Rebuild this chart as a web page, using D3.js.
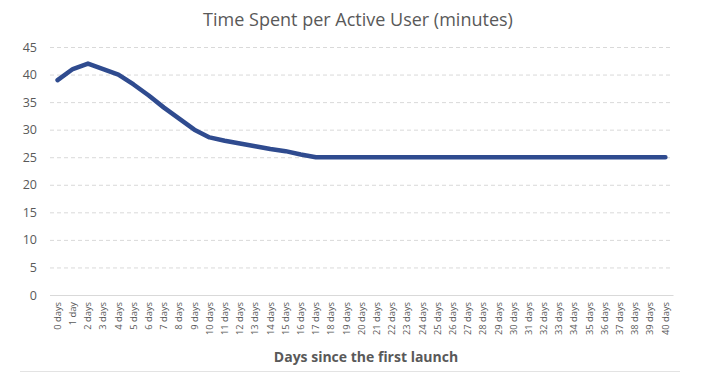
<!DOCTYPE html>
<html>
<head>
<meta charset="utf-8">
<script src="https://cdn.jsdelivr.net/npm/d3@7"></script>
<style>
  body { margin: 0; background: #fff; }
  text { font-family: "Open Sans", "Noto Sans", sans-serif; }
</style>
</head>
<body>
<svg id="chart"></svg>
<script>
var svgW = 715, svgH = 387;

// days since first launch
var days = d3.range(0, 41).map(function (d) { return d === 1 ? "1 day" : d + " days"; });
// minutes per active user
var minutes = [39, 41, 42, 41, 40, 38.2, 36.2, 34, 32, 30, 28.6, 28, 27.5, 27, 26.5, 26.1, 25.5, 25,
  25, 25, 25, 25, 25, 25, 25, 25, 25, 25, 25, 25, 25, 25, 25, 25, 25, 25, 25, 25, 25, 25, 25];
var yTicks = [0, 5, 10, 15, 20, 25, 30, 35, 40, 45];

var margin = { left: 50, right: 42, top: 47, bottom: 92 };
var grey = "#595959";

var svg = d3.select("#chart").attr("width", svgW).attr("height", svgH);

var x = d3.scaleBand().domain(days).range([margin.left, svgW - margin.right]);
var y = d3.scaleLinear().domain([0, 45]).range([svgH - margin.bottom, margin.top]);

// title
svg.append("text")
  .attr("x", 358).attr("y", 26)
  .attr("text-anchor", "middle")
  .attr("font-size", 18)
  .attr("fill", grey)
  .text("Time Spent per Active User (minutes)");

// gridlines (dashed) + y labels
var yAxis = svg.append("g")
  .attr("transform", "translate(" + margin.left + ",0)")
  .call(d3.axisLeft(y).tickValues(yTicks).tickSize(-(svgW - margin.left - margin.right)).tickPadding(13));
yAxis.select(".domain").remove();
yAxis.selectAll(".tick line")
  .attr("stroke", "#d9d9d9")
  .attr("stroke-dasharray", function (d) { return d === 0 ? null : "4,3"; });
yAxis.selectAll(".tick text")
  .attr("fill", grey)
  .attr("font-size", 12.5);

// x axis
var xAxis = svg.append("g")
  .attr("transform", "translate(0," + y(0) + ")")
  .call(d3.axisBottom(x).tickSize(0).tickPadding(0));
xAxis.select(".domain").attr("stroke", "#d9d9d9");
xAxis.selectAll(".tick text")
  .attr("fill", grey)
  .attr("font-size", 9.3)
  .attr("text-anchor", "end")
  .attr("dy", "0.35em")
  .attr("transform", "translate(0,7) rotate(-90)");

// axis title
svg.append("text")
  .attr("x", 366).attr("y", 362)
  .attr("text-anchor", "middle")
  .attr("font-size", 14)
  .attr("font-weight", "bold")
  .attr("fill", grey)
  .text("Days since the first launch");

// bottom border
svg.append("line")
  .attr("x1", 20).attr("x2", 680)
  .attr("y1", 371.5).attr("y2", 371.5)
  .attr("stroke", "#e3e3e3");

// line
var line = d3.line()
  .x(function (d, i) { return x(days[i]) + x.bandwidth() / 2; })
  .y(function (d) { return y(d); });

svg.append("path")
  .datum(minutes)
  .attr("d", line)
  .attr("fill", "none")
  .attr("stroke", "#2f4b8f")
  .attr("stroke-width", 4.5)
  .attr("stroke-linejoin", "round")
  .attr("stroke-linecap", "round");
</script>
</body>
</html>
